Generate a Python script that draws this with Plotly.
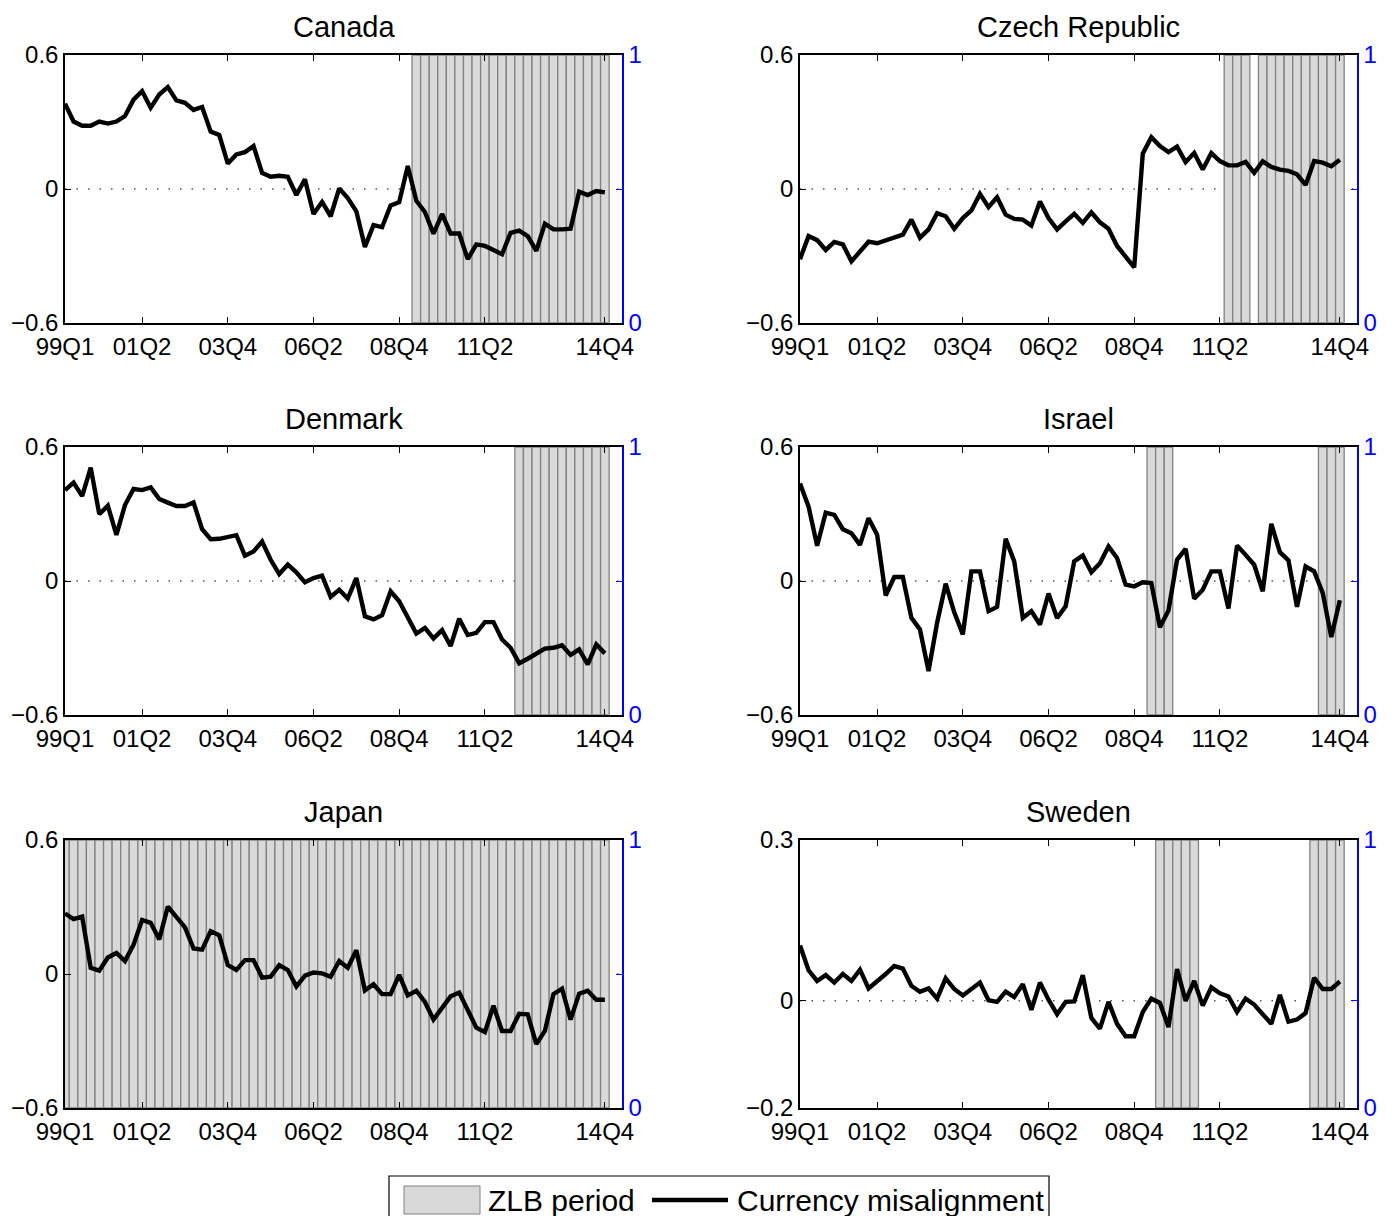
import plotly.graph_objects as go

# The page body has an 8px margin, so the figure is sized and placed to
# land on the reference pixel grid.
PAGE_OFF = 8
W, H = 1378, 1208
FONT = "Liberation Sans, Arial, Helvetica, sans-serif"

# ---------------- data ----------------
quarters = [f"{y % 100:02d}Q{q}" for y in range(1999, 2015) for q in range(1, 5)]
tick_labels = ["99Q1", "01Q2", "03Q4", "06Q2", "08Q4", "11Q2", "14Q4"]

countries = ["Canada", "Czech Republic", "Denmark", "Israel", "Japan", "Sweden"]

canada = [0.382, 0.302, 0.283, 0.283, 0.302, 0.293, 0.302, 0.327, 0.400, 0.438,
          0.364, 0.423, 0.456, 0.397, 0.386, 0.354, 0.367, 0.257, 0.242, 0.114,
          0.155, 0.165, 0.192, 0.072, 0.055, 0.059, 0.055, -0.027, 0.043, -0.112,
          -0.058, -0.122, 0.003, -0.041, -0.100, -0.260, -0.162, -0.171, -0.074, -0.059,
          0.103, -0.053, -0.103, -0.200, -0.112, -0.199, -0.199, -0.314, -0.248, -0.255,
          -0.273, -0.292, -0.196, -0.186, -0.211, -0.277, -0.155, -0.181, -0.181, -0.178,
          -0.012, -0.027, -0.009, -0.015]

czech = [-0.314, -0.211, -0.229, -0.273, -0.237, -0.248, -0.324, -0.280, -0.236, -0.243,
         -0.229, -0.220, -0.204, -0.137, -0.218, -0.181, -0.108, -0.122, -0.178, -0.130,
         -0.096, -0.022, -0.081, -0.037, -0.115, -0.134, -0.137, -0.164, -0.056, -0.130,
         -0.181, -0.145, -0.111, -0.152, -0.105, -0.149, -0.178, -0.255, -0.302, -0.351,
         0.158, 0.232, 0.192, 0.165, 0.190, 0.121, 0.161, 0.087, 0.161, 0.125,
         0.106, 0.106, 0.121, 0.072, 0.124, 0.099, 0.087, 0.081, 0.066, 0.018,
         0.125, 0.118, 0.102, 0.131]

denmark = [0.407, 0.441, 0.380, 0.508, 0.299, 0.337, 0.207, 0.340, 0.412, 0.407,
           0.419, 0.367, 0.351, 0.336, 0.336, 0.352, 0.232, 0.187, 0.189, 0.196,
           0.205, 0.113, 0.132, 0.177, 0.095, 0.031, 0.073, 0.039, -0.006, 0.013,
           0.024, -0.071, -0.039, -0.079, 0.013, -0.158, -0.172, -0.153, -0.046, -0.091,
           -0.165, -0.235, -0.210, -0.257, -0.220, -0.291, -0.169, -0.242, -0.232, -0.184,
           -0.184, -0.262, -0.299, -0.368, -0.348, -0.325, -0.303, -0.299, -0.288, -0.331,
           -0.306, -0.373, -0.284, -0.324]

israel = [0.437, 0.333, 0.158, 0.306, 0.296, 0.232, 0.214, 0.162, 0.281, 0.207,
          -0.065, 0.018, 0.018, -0.165, -0.217, -0.403, -0.187, -0.012, -0.140, -0.239,
          0.043, 0.043, -0.135, -0.116, 0.189, 0.088, -0.165, -0.135, -0.195, -0.056,
          -0.166, -0.113, 0.088, 0.114, 0.039, 0.080, 0.155, 0.103, -0.016, -0.024,
          -0.006, -0.009, -0.207, -0.132, 0.095, 0.144, -0.079, -0.039, 0.043, 0.043,
          -0.123, 0.159, 0.117, 0.073, -0.046, 0.256, 0.129, 0.092, -0.116, 0.065,
          0.043, -0.053, -0.251, -0.086]

japan = [0.271, 0.246, 0.257, 0.028, 0.015, 0.074, 0.094, 0.058, 0.131, 0.242,
         0.229, 0.155, 0.302, 0.258, 0.209, 0.114, 0.109, 0.192, 0.173, 0.040,
         0.018, 0.062, 0.062, -0.016, -0.012, 0.040, 0.018, -0.056, -0.007, 0.007,
         0.003, -0.012, 0.058, 0.028, 0.106, -0.074, -0.046, -0.090, -0.090, -0.004,
         -0.096, -0.075, -0.125, -0.204, -0.155, -0.100, -0.083, -0.167, -0.240, -0.260,
         -0.142, -0.255, -0.255, -0.178, -0.181, -0.314, -0.255, -0.090, -0.066, -0.204,
         -0.088, -0.075, -0.115, -0.115]

sweden = [0.103, 0.057, 0.037, 0.048, 0.034, 0.050, 0.037, 0.058, 0.023, 0.036,
          0.050, 0.065, 0.060, 0.028, 0.017, 0.023, 0.004, 0.042, 0.022, 0.010,
          0.022, 0.034, 0.001, -0.002, 0.017, 0.007, 0.031, -0.017, 0.034, 0.002,
          -0.025, -0.002, -0.001, 0.048, -0.032, -0.052, -0.002, -0.043, -0.066, -0.066,
          -0.021, 0.004, -0.004, -0.049, 0.059, 0.000, 0.037, -0.009, 0.025, 0.014,
          0.008, -0.021, 0.004, -0.007, -0.025, -0.043, 0.011, -0.039, -0.035, -0.023,
          0.043, 0.022, 0.022, 0.036]

# ZLB periods (first quarter, last quarter)
zlb_canada = [("09Q2", "14Q4")]
zlb_czech = [("11Q3", "12Q1"), ("12Q3", "14Q4")]
zlb_denmark = [("12Q2", "14Q4")]
zlb_israel = [("09Q2", "09Q4"), ("14Q2", "14Q4")]
zlb_japan = [("99Q1", "14Q4")]
zlb_sweden = [("09Q3", "10Q3"), ("14Q1", "14Q4")]

# left-axis ticks per panel
yticks_std = [-0.6, 0, 0.6]
yticks_sweden = [-0.2, 0, 0.3]

series = [canada, czech, denmark, israel, japan, sweden]
zlbs = [zlb_canada, zlb_czech, zlb_denmark, zlb_israel, zlb_japan, zlb_sweden]
yticks = [yticks_std] * 5 + [yticks_sweden]

# ---------------- layout geometry (window pixels) ----------------
col_x = [65, 800]
row_y = [55, 447, 840]
pw, ph = 557, 268

ZLB_FILL = "rgb(217,217,217)"
ZLB_EDGE = "rgb(130,130,130)"
BLUE = "#0000ff"


def px_x(v):
    return (v - PAGE_OFF) / W


def px_y(v):
    return 1 - (v - PAGE_OFF) / H


def tick_text(v):
    if v == 0:
        return "0"
    s = f"{abs(v):g}"
    return ("\u2212" if v < 0 else "") + s


fig = go.Figure()
layout = dict(
    width=W, height=H,
    margin=dict(l=0, r=0, t=0, b=0),
    paper_bgcolor="white", plot_bgcolor="white",
    template="none",
    showlegend=False,
    barmode="overlay",
    font=dict(family=FONT, size=24, color="black"),
)
shapes = []
annotations = []

for i, (name, vals, zlb, yt) in enumerate(zip(countries, series, zlbs, yticks)):
    col, row = i % 2, i // 2
    x0p = col_x[col]
    y0p = row_y[row]
    xdom = [px_x(x0p), px_x(x0p + pw)]
    ydom = [px_y(y0p + ph), px_y(y0p)]
    xn = i + 1
    ya, yb, yc = 3 * i + 1, 3 * i + 2, 3 * i + 3
    xref = "x" if xn == 1 else f"x{xn}"
    yaref = "y" if ya == 1 else f"y{ya}"
    ybref = f"y{yb}"
    ycref = f"y{yc}"
    xkey = "xaxis" if xn == 1 else f"xaxis{xn}"
    yakey = "yaxis" if ya == 1 else f"yaxis{ya}"

    yr = [yt[0], yt[-1]]
    # right-axis ticks aligned with left ticks
    y2ticks = [(v - yr[0]) / (yr[1] - yr[0]) for v in yt]
    y2text = ["0", "", "1"]

    layout[xkey] = dict(
        domain=xdom, anchor=yaref, type="category",
        categoryorder="array", categoryarray=quarters,
        range=[0, 65], tickmode="array", tickvals=tick_labels, ticktext=tick_labels,
        ticks="inside", ticklen=6, tickwidth=1, tickcolor="black",
        showline=True, linecolor="black", linewidth=1.5, mirror="ticks",
        showgrid=False, zeroline=False, ticklabelstandoff=1,
        tickfont=dict(size=24, color="black", family=FONT),
    )
    layout[yakey] = dict(
        domain=ydom, anchor=xref, range=yr,
        tickmode="array", tickvals=yt, ticktext=[tick_text(v) for v in yt],
        ticks="inside", ticklen=6, tickwidth=1, tickcolor="black",
        showline=True, linecolor="black", linewidth=1.5, mirror=False,
        showgrid=False, zeroline=False,
        tickfont=dict(size=24, color="black", family=FONT),
    )
    layout[f"yaxis{yb}"] = dict(
        overlaying=yaref, anchor=xref, side="right", range=[0, 1],
        tickmode="array", tickvals=y2ticks, ticktext=y2text,
        ticks="inside", ticklen=6, tickwidth=1, tickcolor=BLUE,
        showline=True, linecolor=BLUE, linewidth=1.5,
        showgrid=False, zeroline=False,
        tickfont=dict(size=24, color=BLUE, family=FONT),
    )
    layout[f"yaxis{yc}"] = dict(
        overlaying=yaref, anchor=xref, range=yr, visible=False,
        showgrid=False, zeroline=False,
    )

    # dotted zero line
    shapes.append(dict(
        type="line", xref=f"{xref} domain", yref=yaref,
        x0=0, x1=1, y0=0, y1=0, layer="below",
        line=dict(color="black", width=1, dash="1.5px,10px"),
    ))

    # ZLB bars
    zq = []
    for a, b in zlb:
        ia, ib = quarters.index(a), quarters.index(b)
        zq.extend(quarters[ia:ib + 1])
    fig.add_trace(go.Bar(
        x=zq, y=[1] * len(zq), width=1,
        marker=dict(color=ZLB_FILL, line=dict(color=ZLB_EDGE, width=1.3)),
        xaxis=xref, yaxis=ybref, name="ZLB period", hoverinfo="skip",
    ))

    # Currency misalignment line
    fig.add_trace(go.Scatter(
        x=quarters, y=vals, mode="lines",
        line=dict(color="black", width=4.4),
        xaxis=xref, yaxis=ycref, name="Currency misalignment",
    ))

    # panel title
    annotations.append(dict(
        text=name, xref="paper", yref="paper",
        x=(xdom[0] + xdom[1]) / 2, y=ydom[1], xanchor="center", yanchor="bottom",
        yshift=11, borderpad=0, showarrow=False,
        font=dict(size=29, color="black", family=FONT),
    ))

# ---------------- manual legend ----------------
shapes.append(dict(type="rect", xref="paper", yref="paper",
                   x0=px_x(389), x1=px_x(1049), y0=px_y(1250), y1=px_y(1176),
                   line=dict(color="black", width=1.2), fillcolor="white", layer="above"))
shapes.append(dict(type="rect", xref="paper", yref="paper",
                   x0=px_x(404), x1=px_x(480), y0=px_y(1214), y1=px_y(1186),
                   line=dict(color=ZLB_EDGE, width=1), fillcolor=ZLB_FILL, layer="above"))
shapes.append(dict(type="line", xref="paper", yref="paper",
                   x0=px_x(652), x1=px_x(728), y0=px_y(1200), y1=px_y(1200),
                   line=dict(color="black", width=4.4), layer="above"))
annotations.append(dict(text="ZLB period", xref="paper", yref="paper",
                        x=px_x(486), y=px_y(1200), xanchor="left", yanchor="middle",
                        showarrow=False, font=dict(size=30, color="black", family=FONT)))
annotations.append(dict(text="Currency misalignment", xref="paper", yref="paper",
                        x=px_x(735), y=px_y(1200), xanchor="left", yanchor="middle",
                        showarrow=False, font=dict(size=30, color="black", family=FONT)))

layout["shapes"] = shapes
layout["annotations"] = annotations
fig.update_layout(**layout)

fig.write_html("out.html")
